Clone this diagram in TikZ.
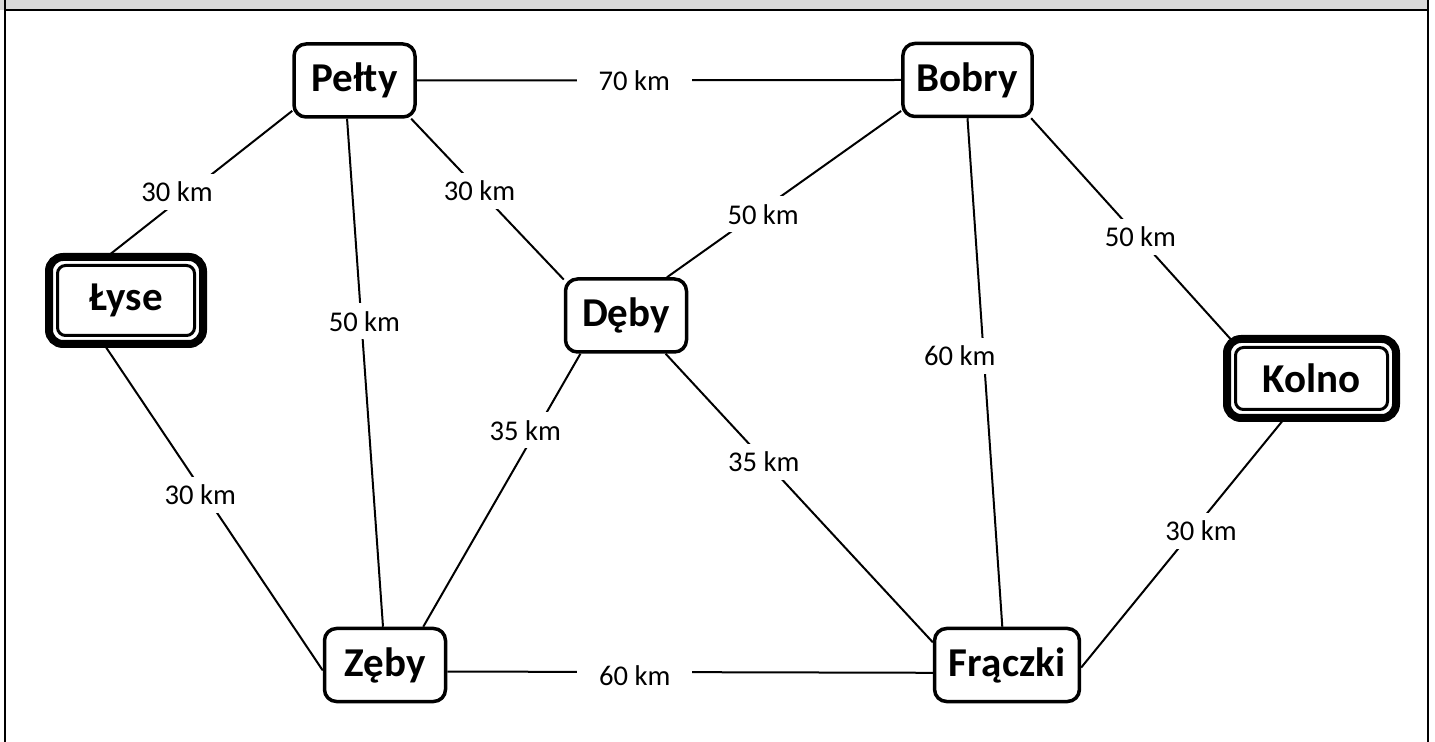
\documentclass[tikz,border=0pt]{standalone}
\usepackage{fontspec}
\setmainfont{Carlito}
\usetikzlibrary{calc}
\begin{document}
\begin{tikzpicture}[x=0.5pt,y=-0.5pt,
  town/.style={draw, line width=1.75pt, rounded corners=6pt, minimum width=60.5pt, minimum height=36.5pt, inner xsep=7pt, fill=white, font=\bfseries\fontsize{20.5}{24}\selectfont},
  bigtown/.style={draw, line width=4pt, rounded corners=7pt, outer sep=0pt, inner sep=0pt, fill=white, font=\bfseries\fontsize{20.5}{24}\selectfont},
  innerframe/.style={line width=1.5pt, rounded corners=4pt},
  road/.style={line width=1pt},
  dist/.style={fill=white, inner xsep=11pt, inner ysep=4pt, font=\fontsize{14.3}{17}\selectfont}
]
\path[use as bounding box] (0,0) rectangle (1435,742);
\fill[black!15] (0,0) rectangle (1428,10);
\draw[line width=1pt] (5,10) -- (1428,10);
\draw[line width=1pt] (5,0) -- (5,742);
\draw[line width=1pt] (1428,0) -- (1428,742);

\node[town] (pelty) at (354.5,80.5) {Pełty};
\node[town] (bobry) at (967.5,80) {Bobry};
\node[town] (deby) at (626,315.5) {Dęby};
\node[town] (zeby) at (385,665) {Zęby};
\node[town, minimum width=70pt] (fraczki) at (1007,665) {Frączki};
\node[bigtown, minimum width=77pt, minimum height=43.5pt] (lyse) at (126,300.5) {Łyse};
\node[bigtown, minimum width=84.5pt, minimum height=39.5pt] (kolno) at (1311.5,378.5) {Kolno};
\draw[innerframe] ($(lyse.north west)+(4.25pt,-4.25pt)$) rectangle ($(lyse.south east)+(-4.25pt,4.25pt)$);
\draw[innerframe] ($(kolno.north west)+(4.25pt,-4.25pt)$) rectangle ($(kolno.south east)+(-4.25pt,4.25pt)$);

\draw[road] (pelty.east) -- node[dist,pos=0.449]{70 km} (bobry.west);
\draw[road] (pelty.206) -- node[dist,pos=0.556,xshift=-6pt]{30 km} (lyse.114);
\draw[road] (pelty.326) -- node[dist,pos=0.448]{30 km} (deby.150);
\draw[road] (pelty.259) -- node[dist,pos=0.399,xshift=1.5pt]{50 km} (zeby.93);
\draw[road] (lyse.243) -- node[dist,pos=0.463,xshift=-2.5pt]{30 km} (zeby.185);
\draw[road] (deby.220) -- node[dist,pos=0.281,xshift=-5.5pt]{35 km} (zeby.45);
\draw[road] (deby.43) -- node[dist,pos=0.379,xshift=3.7pt]{50 km} (bobry.205);
\draw[road] (deby.316) -- node[dist,pos=0.375,xshift=-1pt]{35 km} (fraczki.163);
\draw[road] (bobry.270) -- node[dist,pos=0.467,xshift=-12pt]{60 km} (fraczki.97);
\draw[road] (bobry.329) -- node[dist,pos=0.538,xshift=1pt]{50 km} (kolno.154);
\draw[road] (kolno.236) -- node[dist,pos=0.451,xshift=4pt]{30 km} (fraczki.358);
\draw[road] (zeby.354) -- node[dist,pos=0.386,yshift=-2pt]{60 km} (fraczki.186);
\end{tikzpicture}
\end{document}
